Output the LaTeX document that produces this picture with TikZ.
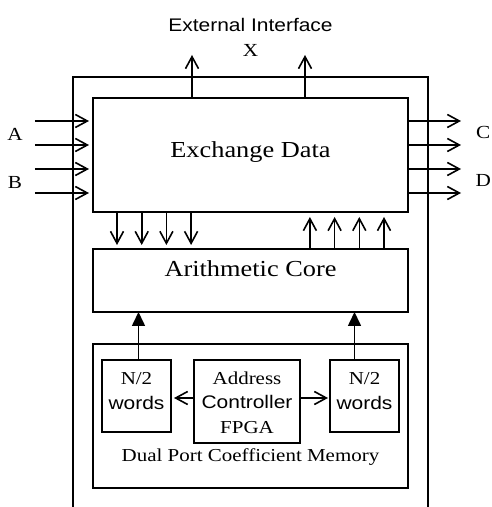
\documentclass[tikz,border=0pt]{standalone}
\usepackage{fontspec}
\setmainfont[FakeStretch=1.15]{Liberation Serif}
\setsansfont[FakeStretch=1.15]{Liberation Sans}
\usetikzlibrary{arrows.meta,positioning}

\begin{document}
\begin{tikzpicture}[
  x=1bp, y=1bp,
  node distance=37bp,
  big/.style={draw, line width=2.4bp, minimum width=315bp, inner sep=0pt, outer sep=0pt, font=\fontsize{23}{28}\selectfont},
  sm/.style={draw, line width=1.5bp, inner sep=0pt, outer sep=0pt, align=center, font=\fontsize{18.3}{24.3}\selectfont},
  lbl/.style={inner sep=0pt, font=\fontsize{18.5}{22}\selectfont},
  e/.style={-{Straight Barb[length=12bp,width=13bp]}, line width=1.6bp},
  f/.style={-{Triangle[length=14bp,width=13bp]}, line width=1.6bp}
]
\useasboundingbox (0,0) rectangle (492,507);

% main blocks
\node[big, text height=60bp, text depth=54bp] (exch) at (250.5,352) {Exchange Data};
\node[big, below=of exch, text height=28bp, text depth=35bp] (core) {Arithmetic Core};
\node[big, below=32bp of core, text height=117bp, text depth=27bp, font=\fontsize{18.3}{24.3}\selectfont] (mem) {Dual Port Coefficient Memory};

% memory contents (text height counts down to the last line)
\node[sm, minimum width=69bp, text height=49bp, text depth=23bp, below right=16bp and 9bp of mem.north west] (wl) {N/2\\\sffamily words};
\node[sm, minimum width=106bp, text height=73bp, text depth=10bp, below right=0bp and 23bp of wl.north east] (addr) {Address\\\sffamily Controller\\FPGA};
\node[sm, minimum width=69bp, text height=49bp, text depth=23bp, below right=0bp and 30bp of addr.north east] (wr) {N/2\\\sffamily words};

% outer frame, open at the bottom
\coordinate (fsw) at (73,-5);
\coordinate (fne) at (428,430);
\draw[line width=1.6bp] (fsw) |- (fne) -- (fne |- fsw);

% labels
\node[lbl, font=\sffamily\fontsize{18.3}{22}\selectfont, anchor=base] (ext) at (250.5,475) {External Interface};
\node[lbl, anchor=base] (xlab) at (250.5,450) {X};
\node[lbl, anchor=base] (alab) at (15,366) {A};
\node[lbl, anchor=base] (blab) at (15,318) {B};
\node[lbl, anchor=base west] (clab) at (476,368) {C};
\node[lbl, anchor=base west] (dlab) at (475.5,320) {D};

% inputs and outputs
\foreach \dy in {34,10,-14,-38} {
  \draw[e, shorten >=4bp] ([shift={(-58bp,\dy bp)}]exch.west) -- ([yshift=\dy bp]exch.west);
  \draw[e] ([yshift=\dy bp]exch.east) -- ++(53,0);
}
\draw[e] ([xshift=-58.5bp]exch.north) -- ++(0,43);
\draw[e] ([xshift=54.5bp]exch.north) -- ++(0,43);

% buses between exchange and core
\foreach \dx in {59.4,84.1,108.8,133.5} {
  \draw[e, shorten >=4bp] ([xshift=-\dx bp]exch.south) -- ([xshift=-\dx bp]core.north);
  \draw[e, shorten >=5bp] ([xshift=\dx bp]core.north) -- ([xshift=\dx bp]exch.south);
}

% coefficients into the core
\draw[f] ([xshift=2bp]wl.north) -- ([xshift=2bp]wl.north |- core.south);
\draw[f] ([xshift=-10bp]wr.north) -- ([xshift=-10bp]wr.north |- core.south);

% address lines
\draw[e, shorten >=3bp] ([yshift=3.5bp]addr.west) -- ([yshift=3.5bp]addr.west -| wl.east);
\draw[e, shorten >=2bp] ([yshift=3.5bp]addr.east) -- ([yshift=3.5bp]addr.east -| wr.west);
\end{tikzpicture}
\end{document}
